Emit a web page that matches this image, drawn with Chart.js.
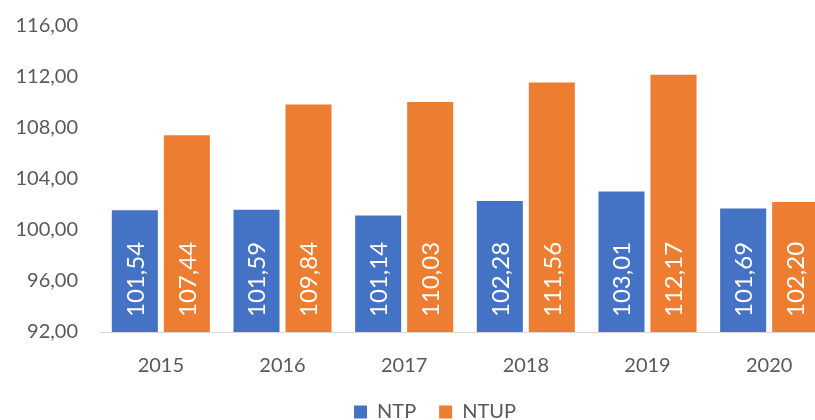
<!DOCTYPE html>
<html>
<head>
<meta charset="utf-8">
<script src="https://cdn.jsdelivr.net/npm/chart.js@4/dist/chart.umd.min.js"></script>
<style>
html,body{margin:0;padding:0;background:#fff;overflow:hidden;}
#wrap{width:840px;height:420px;position:relative;}
</style>
</head>
<body>
<div id="wrap"><canvas id="c" width="840" height="420"></canvas></div>
<script>
const categories = ['2015','2016','2017','2018','2019','2020'];
const ntp = [101.54, 101.59, 101.14, 102.28, 103.01, 101.69];
const ntup = [107.44, 109.84, 110.03, 111.56, 112.17, 102.20];
const seriesNames = ['NTP','NTUP'];
const yMin = 92, yMax = 116, yStep = 4;

const fmt = v => Number(v).toFixed(2).replace('.', ',');
const FONT = 'Lato, "Open Sans", sans-serif';

const insideLabels = {
  id: 'insideLabels',
  afterLayout(chart) {
    if (chart.legend) { chart.legend.left += 40; }
  },
  afterDraw(chart) {
    const ctx = chart.ctx;
    const baseY = chart.scales.y.getPixelForValue(yMin);
    chart.data.datasets.forEach((ds, i) => {
      const meta = chart.getDatasetMeta(i);
      meta.data.forEach((bar, j) => {
        ctx.save();
        ctx.fillStyle = '#ffffff';
        ctx.font = '24px ' + FONT;
        ctx.textAlign = 'left';
        ctx.textBaseline = 'middle';
        ctx.translate(bar.x, baseY - 15);
        ctx.rotate(-Math.PI / 2);
        ctx.fillText(fmt(ds.data[j]), 0, 1);
        ctx.restore();
      });
    });
  }
};

new Chart(document.getElementById('c'), {
  type: 'bar',
  data: {
    labels: categories,
    datasets: [
      { label: seriesNames[0], data: ntp, backgroundColor: '#4472C4', categoryPercentage: 0.855, barPercentage: 0.885 },
      { label: seriesNames[1], data: ntup, backgroundColor: '#ED7D31', categoryPercentage: 0.855, barPercentage: 0.885 }
    ]
  },
  options: {
    responsive: false,
    animation: false,
    layout: { padding: { top: 0, right: 10, bottom: -3, left: 0 } },
    plugins: {
      tooltip: { enabled: false },
      legend: {
        position: 'bottom',
        maxHeight: 44,
        labels: {
          font: { family: FONT, size: 20 },
          color: '#595959',
          boxWidth: 13,
          boxHeight: 13,
          padding: 23,
          useBorderRadius: false
        }
      }
    },
    scales: {
      x: {
        grid: { display: false, drawTicks: false },
        border: { display: true, color: '#d9d9d9', width: 1 },
        ticks: { font: { family: FONT, size: 20 }, color: '#595959', padding: 22 },
        afterFit(s) { s.height = 47; }
      },
      y: {
        min: yMin, max: yMax,
        grid: { display: false, drawTicks: false },
        border: { display: false },
        ticks: {
          stepSize: yStep,
          font: { family: FONT, size: 20 },
          color: '#595959',
          padding: 22,
          callback: v => fmt(v)
        },
        afterFit(s) { s.width = 100; s.paddingTop = 26; s.paddingBottom = 0; }
      }
    }
  },
  plugins: [insideLabels]
});
</script>
</body>
</html>
